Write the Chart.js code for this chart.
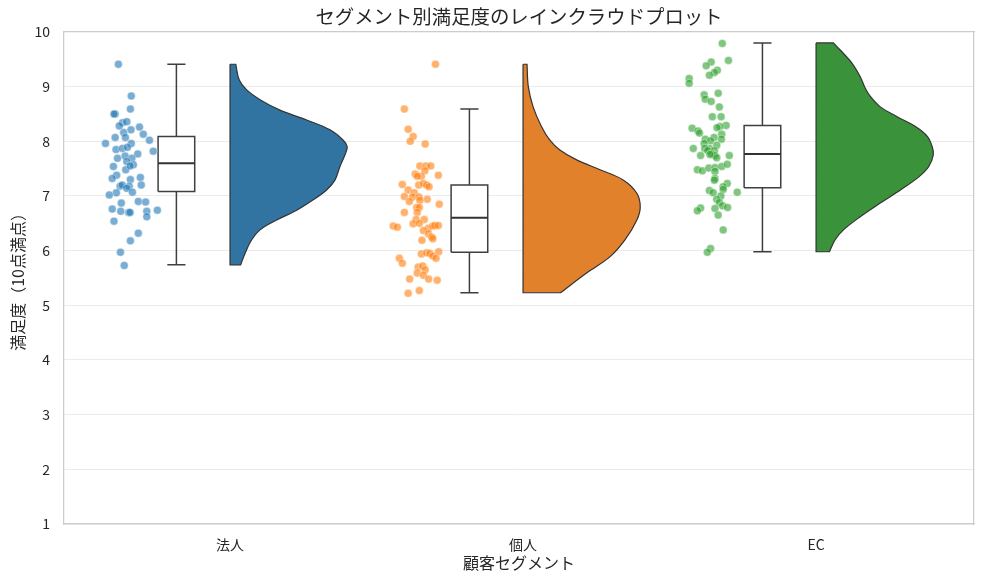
<!DOCTYPE html>
<html>
<head>
<meta charset="utf-8">
<script src="https://cdn.jsdelivr.net/npm/chart.js@4.4.0/dist/chart.umd.min.js"></script>
<style>
  body { margin: 0; background: #fff; }
</style>
</head>
<body>
<canvas id="rain" width="984" height="584"></canvas>
<script>
const categories = ["法人", "個人", "EC"];

// 満足度スコア（点）と横方向のジッター
const scoresHojin = [9.41,8.83,8.59,8.50,8.50,8.34,8.36,8.28,8.21,8.26,8.16,8.13,8.02,8.07,8.07,7.96,7.96,7.85,7.87,7.89,7.82,7.77,7.73,7.69,7.69,7.63,7.54,7.57,7.48,7.55,7.38,7.34,7.32,7.30,7.18,7.20,7.18,7.14,7.20,7.07,7.06,7.02,6.87,6.90,6.89,6.76,6.72,6.70,6.70,6.72,6.74,6.62,6.54,6.32,6.18,5.97,5.73];
const jitterHojin = [-0.031,0.013,0.010,-0.042,-0.046,-0.017,-0.002,-0.028,0.012,0.041,-0.013,0.054,0.075,-0.042,-0.007,-0.075,0.013,-0.039,-0.017,0.000,0.088,0.035,-0.008,-0.034,0.015,-0.002,-0.048,0.020,-0.006,0.009,-0.037,0.044,-0.052,0.010,-0.025,-0.018,0.006,-0.002,0.047,0.017,-0.038,-0.062,-0.021,0.037,0.062,-0.052,-0.023,0.004,0.009,0.066,0.102,0.066,-0.046,0.037,0.010,-0.024,-0.011];

const scoresKojin = [9.41,8.59,8.22,8.09,8.00,7.95,7.55,7.55,7.55,7.46,7.40,7.36,7.36,7.38,7.21,7.20,7.23,7.20,7.17,7.11,7.06,6.99,6.98,6.98,6.94,6.90,6.92,6.85,6.79,6.79,6.70,6.70,6.57,6.57,6.45,6.43,6.49,6.50,6.41,6.45,6.46,6.46,6.37,6.31,6.25,6.22,6.19,5.98,5.94,5.96,5.95,5.90,5.86,5.86,5.77,5.70,5.72,5.65,5.59,5.55,5.48,5.46,5.48,5.27,5.22];
const jitterKojin = [0.051,-0.055,-0.042,-0.025,-0.035,0.016,-0.002,0.019,0.035,0.015,-0.018,0.003,-0.011,0.061,-0.062,-0.006,0.010,0.021,0.029,-0.042,-0.021,-0.055,-0.027,-0.005,0.023,-0.038,-0.002,0.064,-0.013,-0.004,-0.055,-0.011,-0.015,0.013,-0.093,-0.079,-0.025,-0.004,0.027,0.042,0.049,0.061,0.010,0.027,0.038,0.042,0.005,0.062,0.003,0.021,0.032,0.042,0.053,-0.072,-0.062,-0.008,0.008,0.016,-0.011,0.010,0.028,0.057,-0.037,-0.004,-0.042];

const scoresEC = [9.79,9.48,9.45,9.38,9.30,9.26,9.21,9.15,9.06,8.88,8.85,8.77,8.73,8.63,8.45,8.45,8.29,8.27,8.25,8.24,8.19,8.15,8.13,8.07,8.04,8.04,8.01,7.96,7.93,7.87,7.87,7.87,7.83,7.83,7.77,7.74,7.74,7.74,7.70,7.76,7.48,7.46,7.51,7.52,7.54,7.58,7.45,7.32,7.29,7.23,7.17,7.12,7.10,7.06,7.07,7.00,6.94,6.88,6.82,6.79,6.77,6.78,6.73,6.65,6.38,6.04,5.97];
const jitterEC = [0.030,0.051,-0.008,-0.025,0.013,0.003,-0.014,-0.083,-0.083,0.016,-0.032,-0.028,-0.008,0.020,-0.004,0.026,0.043,0.022,0.012,-0.073,-0.053,-0.048,0.028,0.002,0.027,-0.028,-0.010,-0.032,0.011,-0.014,-0.069,-0.030,-0.020,0.003,-0.006,0.005,-0.044,0.054,0.011,-0.012,-0.055,-0.038,-0.016,0.005,0.028,0.047,0.005,0.005,0.003,0.047,0.033,0.033,-0.014,-0.001,0.081,0.025,0.011,0.020,0.031,0.048,0.005,-0.044,-0.055,0.016,0.033,-0.010,-0.021];

// 箱ひげ（ひげ下端, Q1, 中央値, Q3, ひげ上端）
const boxLow = [5.74, 5.23, 5.98];
const boxQ1 = [7.08, 5.97, 7.15];
const boxMedian = [7.60, 6.60, 7.77];
const boxQ3 = [8.09, 7.20, 8.29];
const boxHigh = [9.41, 8.59, 9.80];

// バイオリン（片側）の密度プロファイル：水準と相対密度
const violinLevelsHojin = [9.41,9.12,8.94,8.76,8.57,8.39,8.21,8.02,7.90,7.75,7.54,7.29,7.11,6.93,6.74,6.56,6.38,6.20,5.95,5.74];
const violinDensityHojin = [0.049,0.079,0.142,0.256,0.426,0.654,0.853,0.966,1.0,0.980,0.938,0.895,0.824,0.710,0.569,0.398,0.256,0.185,0.128,0.091];
const violinLevelsKojin = [9.41,9.00,8.63,8.27,8.02,7.84,7.66,7.48,7.29,7.05,6.80,6.56,6.20,5.89,5.59,5.23];
const violinDensityKojin = [0.034,0.045,0.086,0.157,0.229,0.314,0.457,0.657,0.857,0.971,1.0,0.971,0.871,0.743,0.542,0.320];
const violinLevelsEC = [9.80,9.67,9.43,9.18,8.97,8.82,8.63,8.45,8.27,8.09,7.90,7.75,7.54,7.35,7.11,6.87,6.62,6.38,6.20,5.98];
const violinDensityEC = [0.148,0.206,0.306,0.377,0.420,0.463,0.548,0.692,0.848,0.949,0.991,1.0,0.962,0.877,0.720,0.548,0.377,0.234,0.163,0.114];

const yTicks = [1, 2, 3, 4, 5, 6, 7, 8, 9, 10];

const stripColors = ["rgba(31,119,180,0.6)", "rgba(255,127,14,0.6)", "rgba(44,160,44,0.6)"];
const violinColors = ["#3274a1", "#e1812c", "#3a923a"];

const STRIP_OFFSET = -0.35;
const BOX_OFFSET = -0.183;
const BOX_HALF = 0.0625;
const CAP_HALF = 0.031;
const VIOLIN_WIDTH = 0.4;

const scores = [scoresHojin, scoresKojin, scoresEC];
const jitters = [jitterHojin, jitterKojin, jitterEC];
const vLevels = [violinLevelsHojin, violinLevelsKojin, violinLevelsEC];
const vDens = [violinDensityHojin, violinDensityKojin, violinDensityEC];

function violinOutline(i) {
  const lv = vLevels[i], d = vDens[i];
  const top = lv[0], bot = lv[lv.length - 1];
  const pts = [{ x: i, y: top }];
  lv.forEach((v, k) => {
    const p = { x: i + d[k] * VIOLIN_WIDTH, y: v };
    pts.push(p);
    // 角を尖らせるため端点は重ねる
    if (k === 0 || k === lv.length - 1) pts.push({ x: p.x, y: p.y });
  });
  pts.push({ x: i, y: bot }, { x: i, y: bot }, { x: i, y: top });
  return pts;
}

const datasets = [];
categories.forEach((c, i) => {
  // 点
  datasets.push({
    type: "scatter",
    data: scores[i].map((s, k) => ({ x: i + STRIP_OFFSET + (jitters[i][k] || 0), y: s })),
    pointRadius: 4,
    pointBackgroundColor: stripColors[i],
    pointBorderColor: "rgba(255,255,255,0.8)",
    pointBorderWidth: 0.5,
  });
  const cx = i + BOX_OFFSET;
  // 中央値
  datasets.push({
    type: "scatter",
    showLine: true,
    data: [{ x: cx - BOX_HALF, y: boxMedian[i] }, { x: cx + BOX_HALF, y: boxMedian[i] }],
    borderColor: "#333333",
    borderWidth: 2,
    pointRadius: 0,
    tension: 0,
  });
  // ひげ
  datasets.push({
    type: "scatter",
    showLine: true,
    data: [
      { x: cx, y: boxQ3[i] }, { x: cx, y: boxHigh[i] }, { x: null, y: null },
      { x: cx - CAP_HALF, y: boxHigh[i] }, { x: cx + CAP_HALF, y: boxHigh[i] }, { x: null, y: null },
      { x: cx, y: boxQ1[i] }, { x: cx, y: boxLow[i] }, { x: null, y: null },
      { x: cx - CAP_HALF, y: boxLow[i] }, { x: cx + CAP_HALF, y: boxLow[i] },
    ],
    borderColor: "#3f3f3f",
    borderWidth: 1.5,
    pointRadius: 0,
    tension: 0,
  });
  // 箱
  datasets.push({
    type: "scatter",
    showLine: true,
    fill: "shape",
    data: [
      { x: cx - BOX_HALF, y: boxQ1[i] }, { x: cx + BOX_HALF, y: boxQ1[i] },
      { x: cx + BOX_HALF, y: boxQ3[i] }, { x: cx - BOX_HALF, y: boxQ3[i] },
      { x: cx - BOX_HALF, y: boxQ1[i] },
    ],
    backgroundColor: "#ffffff",
    borderColor: "#3f3f3f",
    borderWidth: 1.5,
    pointRadius: 0,
    tension: 0,
  });
  // バイオリン
  datasets.push({
    type: "scatter",
    showLine: true,
    fill: "shape",
    data: violinOutline(i),
    backgroundColor: violinColors[i],
    borderColor: "#333333",
    borderWidth: 1.2,
    pointRadius: 0,
    tension: 0.35,
  });
});

Chart.defaults.font.family = "'Noto Sans CJK JP', 'Noto Sans', sans-serif";
Chart.defaults.color = "#262626";

new Chart(document.getElementById("rain"), {
  type: "scatter",
  data: { datasets },
  options: {
    responsive: false,
    animation: false,
    events: [],
    layout: { padding: { left: 0, right: 10, top: 0, bottom: 0 } },
    plugins: {
      legend: { display: false },
      tooltip: { enabled: false },
      title: {
        display: true,
        fullSize: false,
        text: "セグメント別満足度のレインクラウドプロット",
        font: { size: 19.4, weight: "normal" },
        color: "#262626",
        padding: { top: 5, bottom: 3.7 },
      },
    },
    scales: {
      x: {
        type: "linear",
        position: "bottom",
        min: -0.5666,
        max: 2.539,
        afterBuildTicks: (s) => { s.ticks = categories.map((c, i) => ({ value: i })); },
        afterFit: (s) => { s.height = 60; },
        ticks: {
          font: { size: 14 },
          color: "#262626",
          padding: 12,
          callback: (v) => categories[v] ?? "",
        },
        grid: { display: false, drawTicks: false },
        border: { color: "#cccccc", width: 1.25 },
        title: {
          display: true,
          text: "顧客セグメント",
          font: { size: 16 },
          color: "#262626",
          padding: { top: 0, bottom: 11 },
        },
      },
      y: {
        type: "linear",
        min: 1,
        max: 10,
        afterBuildTicks: (s) => { s.ticks = yTicks.map((v) => ({ value: v })); },
        afterFit: (s) => { s.width = 64; },
        ticks: { font: { size: 14 }, color: "#262626", padding: 14 },
        grid: { color: "#ebebeb", drawTicks: false },
        border: { color: "#cccccc", width: 1.25 },
        title: {
          display: true,
          text: "満足度（10点満点）",
          font: { size: 16 },
          color: "#262626",
          padding: { top: 8, bottom: 0 },
        },
      },
      x2: {
        type: "linear",
        position: "top",
        ticks: { display: false },
        grid: { display: false, drawTicks: false },
        border: { color: "#cccccc", width: 1.25 },
        afterFit: (s) => { s.height = 0; },
      },
      y2: {
        type: "linear",
        position: "right",
        ticks: { display: false },
        grid: { display: false, drawTicks: false },
        border: { color: "#cccccc", width: 1.25 },
        afterFit: (s) => { s.width = 0; },
      },
    },
  },
});
</script>
</body>
</html>
